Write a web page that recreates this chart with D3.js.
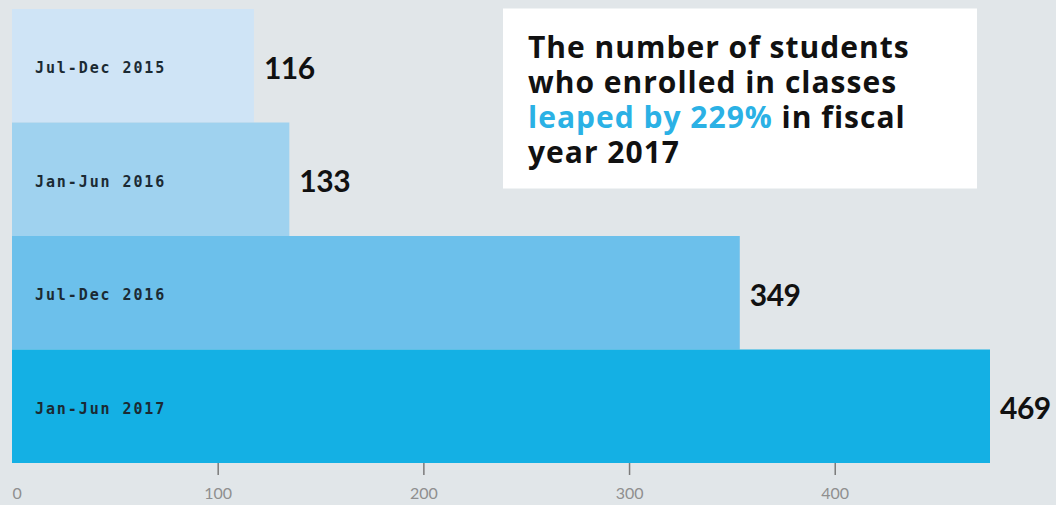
<!DOCTYPE html>
<html>
<head>
<meta charset="utf-8">
<script src="https://cdn.jsdelivr.net/npm/d3@7"></script>
<style>
  html, body { margin: 0; padding: 0; background: #e1e6e9; }
  svg { display: block; }
</style>
</head>
<body>
<svg id="chart" width="1056" height="505"></svg>
<script>
const categories = ["Jul-Dec 2015", "Jan-Jun 2016", "Jul-Dec 2016", "Jan-Jun 2017"];
const values = [116, 133, 349, 469];
const barColors = ["#cfe4f6", "#9fd2ef", "#6cc0eb", "#14b0e4"];
const tickValues = [0, 100, 200, 300, 400];
const titleLines = [
  [{t: "The number of students", hi: false}],
  [{t: "who enrolled in classes", hi: false}],
  [{t: "leaped by 229%", hi: true}, {t: " in fiscal", hi: false}],
  [{t: "year 2017", hi: false}]
];

const W = 1056, H = 505;
const svg = d3.select("#chart");

svg.append("rect").attr("width", W).attr("height", H).attr("fill", "#e1e6e9");

const xBar = d3.scaleLinear().domain([0, 469]).range([12, 990]);
const xAxisScale = d3.scaleLinear().domain([0, 475]).range([12, 989]);
const y = d3.scaleBand().domain(categories).range([9, 463]).padding(0);

const data = categories.map((c, i) => ({c, v: values[i], color: barColors[i]}));

svg.selectAll("rect.bar").data(data).join("rect")
  .attr("class", "bar")
  .attr("x", xBar(0))
  .attr("y", d => y(d.c))
  .attr("width", d => xBar(d.v) - xBar(0))
  .attr("height", y.bandwidth())
  .attr("fill", d => d.color);

svg.selectAll("text.cat").data(data).join("text")
  .attr("class", "cat")
  .attr("x", 35)
  .attr("y", d => y(d.c) + y.bandwidth() / 2 + 7.5)
  .attr("font-family", "'DejaVu Sans Mono', monospace")
  .attr("font-weight", 700)
  .attr("font-size", 15)
  .attr("letter-spacing", 1.9)
  .attr("fill", "#1b2a33")
  .text(d => d.c);

svg.selectAll("text.val").data(data).join("text")
  .attr("class", "val")
  .attr("x", d => xBar(d.v) + 10)
  .attr("y", d => y(d.c) + y.bandwidth() / 2 + 13)
  .attr("font-family", "Lato, sans-serif")
  .attr("font-weight", 700)
  .attr("font-size", 30)
  .attr("letter-spacing", -0.5)
  .attr("fill", "#111")
  .text(d => d.v);

// axis
const axis = d3.axisBottom(xAxisScale).tickValues(tickValues).tickSize(12).tickPadding(13).tickFormat(d3.format("d"));
const gAxis = svg.append("g").attr("transform", "translate(0,463)").call(axis);
gAxis.select(".domain").remove();
gAxis.selectAll(".tick line").attr("stroke", "#7a7a7a").attr("stroke-width", 1.5);
gAxis.selectAll(".tick").filter(d => d === 0).select("line").remove();
gAxis.selectAll(".tick text")
  .attr("fill", "#8f8f8f")
  .attr("font-family", "Lato, sans-serif")
  .attr("font-size", 16);
gAxis.selectAll(".tick").filter(d => d === 0).select("text").attr("text-anchor", "start");

// title box
svg.append("rect").attr("x", 503).attr("y", 8.5).attr("width", 474).attr("height", 180).attr("fill", "#ffffff");
titleLines.forEach((line, i) => {
  const t = svg.append("text")
    .attr("x", 528).attr("y", 57.5 + i * 35)
    .attr("font-family", "'Open Sans', sans-serif")
    .attr("font-weight", 700)
    .attr("font-size", 30)
    .attr("letter-spacing", 1.0)
    .attr("fill", "#111");
  line.forEach(seg => {
    t.append("tspan").text(seg.t).attr("fill", seg.hi ? "#2bb1e5" : "#111");
  });
});
</script>
</body>
</html>
